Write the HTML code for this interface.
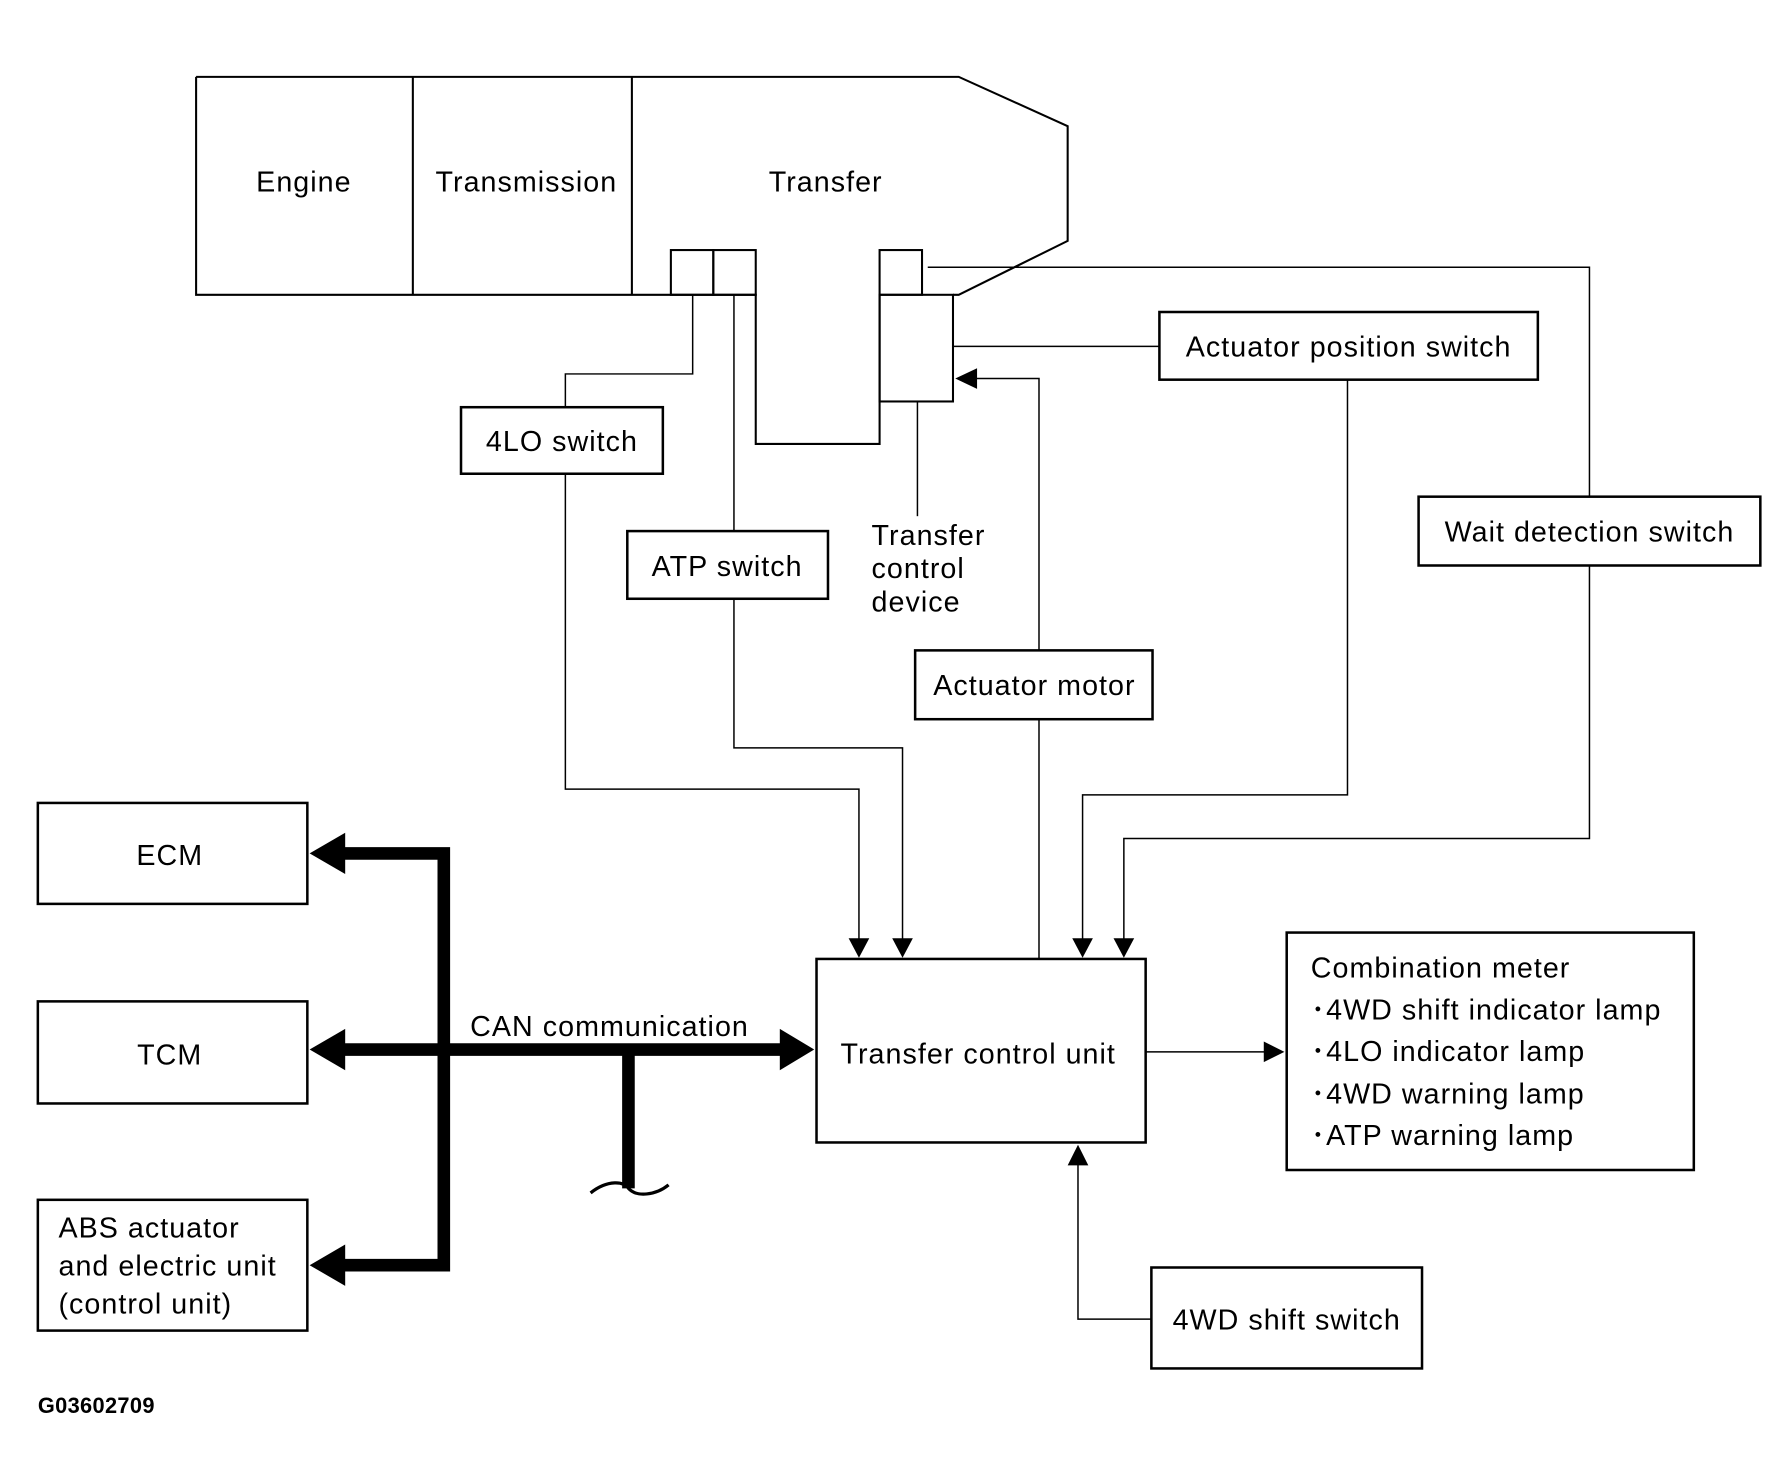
<!DOCTYPE html>
<html><head><meta charset="utf-8"><style>html,body{margin:0;padding:0;background:#fff}svg{display:block}</style></head>
<body>
<svg width="1789" height="1482" viewBox="0 0 1560 1292" preserveAspectRatio="none" xmlns="http://www.w3.org/2000/svg" font-family="Liberation Sans, sans-serif" font-size="25" letter-spacing="0.9">
<rect width="1560" height="1292" fill="#fff"/>
<g fill="none" stroke="#000" stroke-width="1.8">
<path d="M171,67 H836 L931,110 V210 L836,257 H831 M171,67 V257 H659 V387 H767 V257"/>
<line x1="360" y1="67" x2="360" y2="257"/>
<line x1="551" y1="67" x2="551" y2="257"/>
<rect x="585" y="218" width="37" height="39"/>
<rect x="622" y="218" width="37" height="39"/>
<rect x="767" y="218" width="37" height="39"/>
<rect x="767" y="257" width="64" height="93"/>
</g>
<g fill="none" stroke="#000" stroke-width="1.3">
<path d="M604,257 V326 H493 V355"/>
<path d="M493,413 V688 H749 V822"/>
<path d="M640,257 V463"/>
<path d="M640,522 V652 H787 V822"/>
<path d="M809,233 H1386 V433"/>
<path d="M1386,493 V731 H980 V822"/>
<path d="M831,302 H1011"/>
<path d="M1175,331 V693 H944 V822"/>
<path d="M906,567 V330 H848"/>
<path d="M906,627 V836"/>
<path d="M800,350 V450"/>
<path d="M999,917 H1104"/>
<path d="M1004,1150 H940 V1012"/>
</g>
<g fill="#000">
<polygon points="740,818 758,818 749,835"/>
<polygon points="778,818 796,818 787,835"/>
<polygon points="935,818 953,818 944,835"/>
<polygon points="971,818 989,818 980,835"/>
<polygon points="852,321 852,339 833,330"/>
<polygon points="1102,908 1102,926 1120,917"/>
<polygon points="931,1016 949,1016 940,998"/>
</g>
<g fill="none" stroke="#000" stroke-width="2.2">
<rect x="402" y="355" width="176" height="58"/>
<rect x="547" y="463" width="175" height="59"/>
<rect x="1011" y="272" width="330" height="59"/>
<rect x="1237" y="433" width="298" height="60"/>
<rect x="798" y="567" width="207" height="60"/>
<rect x="712" y="836" width="287" height="160"/>
<rect x="1122" y="813" width="355" height="207"/>
<rect x="1004" y="1105" width="236" height="88"/>
<rect x="33" y="700" width="235" height="88"/>
<rect x="33" y="873" width="235" height="89"/>
<rect x="33" y="1046" width="235" height="114"/>
</g>
<g fill="none" stroke="#000" stroke-width="11">
<path d="M300,744 H387 V1103 H300"/>
<path d="M300,915 H683"/>
<path d="M548,915 V1036"/>
</g>
<path d="M515,1040 C530,1028 545,1030 548,1036 C555,1044 572,1042 583,1033" fill="none" stroke="#000" stroke-width="2.8"/>
<g fill="#000">
<polygon points="270,744 301,726 301,762"/>
<polygon points="270,915 301,897 301,933"/>
<polygon points="270,1103 301,1085 301,1121"/>
<polygon points="710,915 680,897 680,933"/>
</g>
<g fill="#000">
<text x="265" y="167" text-anchor="middle">Engine</text>
<text x="459" y="167" text-anchor="middle">Transmission</text>
<text x="720" y="167" text-anchor="middle">Transfer</text>
<text x="490" y="393" text-anchor="middle">4LO switch</text>
<text x="634" y="502" text-anchor="middle">ATP switch</text>
<text x="1176" y="311" text-anchor="middle">Actuator position switch</text>
<text x="1386" y="472" text-anchor="middle">Wait detection switch</text>
<text x="902" y="606" text-anchor="middle">Actuator motor</text>
<text x="760" y="475">Transfer</text>
<text x="760" y="504">control</text>
<text x="760" y="533">device</text>
<text x="853" y="927" text-anchor="middle">Transfer control unit</text>
<text x="1143" y="852">Combination meter</text>
<text x="1143" y="889">･4WD shift indicator lamp</text>
<text x="1143" y="925">･4LO indicator lamp</text>
<text x="1143" y="962">･4WD warning lamp</text>
<text x="1143" y="998">･ATP warning lamp</text>
<text x="1122" y="1159" text-anchor="middle">4WD shift switch</text>
<text x="148" y="754" text-anchor="middle">ECM</text>
<text x="148" y="928" text-anchor="middle">TCM</text>
<text x="51" y="1079">ABS actuator</text>
<text x="51" y="1112">and electric unit</text>
<text x="51" y="1145">(control unit)</text>
<text x="410" y="903">CAN communication</text>
<text x="33" y="1232" font-size="19" font-weight="bold" letter-spacing="0.3">G03602709</text>
</g>
</svg>
</body></html>
